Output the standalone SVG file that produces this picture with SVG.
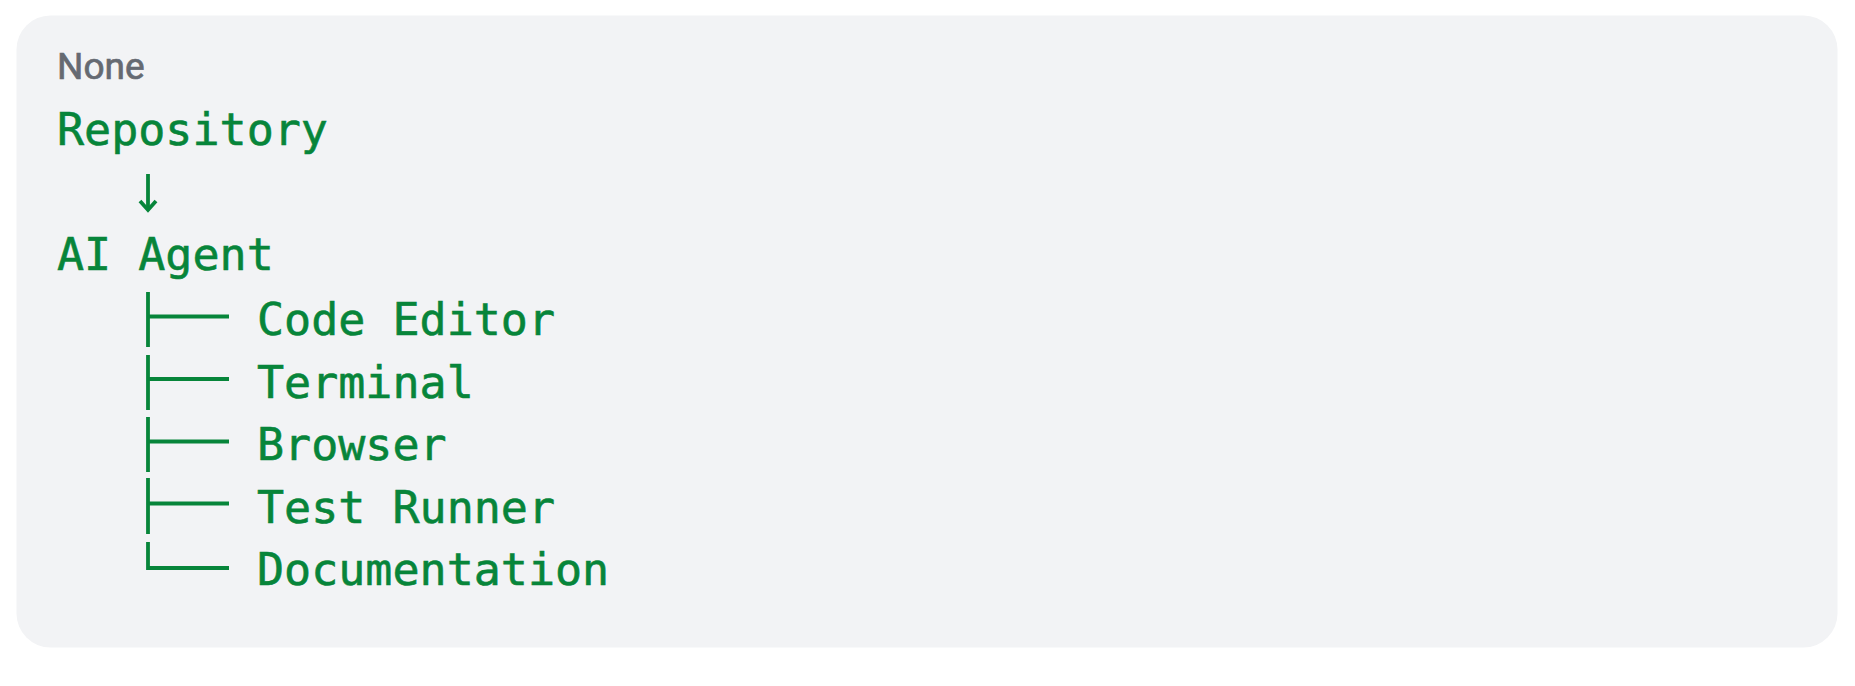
<svg xmlns="http://www.w3.org/2000/svg" width="1855" height="686" viewBox="0 0 1855 686">
  <style>
    .mono { font-family: "DejaVu Sans Mono", "Liberation Mono", monospace; font-size: 45px; fill: #07853a; stroke: #07853a; stroke-width: 0.6; }
    .label { font-family: Roboto, "Liberation Sans", sans-serif; font-size: 37px; font-weight: 400; fill: #656a72; stroke: #656a72; stroke-width: 0.7; }
    .conn { stroke: #07853a; stroke-width: 3.8; fill: none; stroke-linecap: butt; }
  </style>
  <rect x="0" y="0" width="1855" height="686" fill="#ffffff"/>
  <rect id="panel" x="16.5" y="15.5" width="1821" height="632" rx="34" ry="34" fill="#f2f3f5"/>
  <g id="title"><text class="label" x="57" y="79">None</text></g>
  <g id="node-repository"><text class="mono" x="57" y="145">Repository</text></g>
  <g id="node-ai-agent"><text class="mono" x="57" y="270">AI Agent</text></g>
  <g id="node-code-editor"><text class="mono" x="257" y="335">Code Editor</text></g>
  <g id="node-terminal"><text class="mono" x="257" y="397.5">Terminal</text></g>
  <g id="node-browser"><text class="mono" x="257" y="460">Browser</text></g>
  <g id="node-test-runner"><text class="mono" x="257" y="522.5">Test Runner</text></g>
  <g id="node-documentation"><text class="mono" x="257" y="585">Documentation</text></g>
  <g id="connectors">
    <path class="conn" d="M148 174 V210"/>
    <path class="conn" d="M140 201 L148 210 L156 201" stroke-width="3.2"/>
    <path class="conn" d="M148 292 V347 M148 316.5 H229"/>
    <path class="conn" d="M148 355 V410 M148 379 H229"/>
    <path class="conn" d="M148 417 V472 M148 441.5 H229"/>
    <path class="conn" d="M148 478 V534 M148 503.5 H229"/>
    <path class="conn" d="M148 542 V568 H229"/>
  </g>
</svg>
